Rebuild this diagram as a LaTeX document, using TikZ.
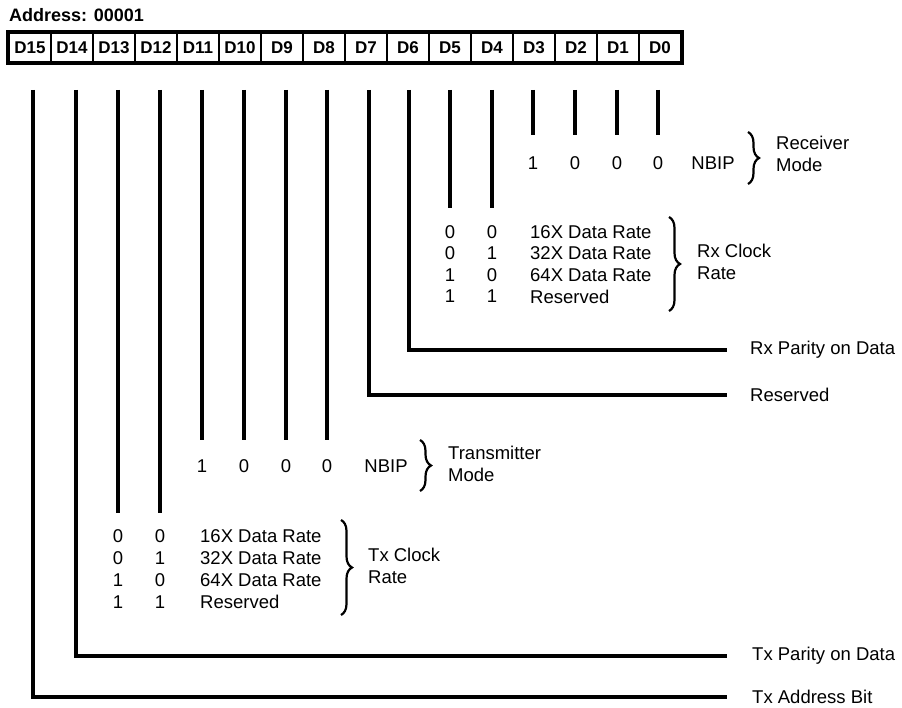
\documentclass[tikz,border=0pt]{standalone}
\usepackage{fontspec}
\setmainfont{Liberation Sans}
\usetikzlibrary{decorations.pathreplacing}
\begin{document}
\begin{tikzpicture}[x=1pt,y=-1pt,
  txt/.style={font=\fontsize{18.5}{22}\selectfont, inner sep=0pt, anchor=west, align=left},
  cell/.style={draw, minimum width=42pt, minimum height=29pt, inner sep=0pt, font=\bfseries\fontsize{17}{20}\selectfont, line width=2.2pt},
  bit/.style={font=\fontsize{18.5}{20}\selectfont, inner sep=0pt},
  brc/.style={decorate, decoration={brace, amplitude=11pt}, line width=2.2pt},
  wire/.style={line width=3.2pt}]
\useasboundingbox (0,0) rectangle (902,708);
% header
\node[txt, font=\bfseries\fontsize{18}{20}\selectfont] (addr) at (9,15) {Address: 00001};
% register cells
\foreach \i in {0,...,15} {
  \node[cell] (c\i) at ({30+42*(15-\i)}, 47.5) {D\i};
}
\draw[line width=3.4pt] (c15.north west) rectangle (c0.south east);
% wire tops
\foreach \i/\x in {15/33,14/76,13/118,12/160,11/202,10/244,9/286,8/327,7/369,6/409,5/450,4/492,3/533,2/575,1/617,0/658} {
  \coordinate (t\i) at (\x,90);
}
% Receiver mode bits D3..D0
\foreach \i/\v in {3/1,2/0,1/0,0/0} {
  \coordinate (b\i) at (t\i |- 0,135);
  \draw[wire] (t\i) -- (b\i);
  \node[bit] (v\i) at (t\i |- 0,163) {\v};
}
\node[bit] (nbr) at (713,163) {NBIP};
\draw[brc] (748,132) -- (748,184);
\node[txt] (rmode) at (776,154) {Receiver\\Mode};
% Rx clock rate D5, D4
\foreach \i in {5,4} {
  \coordinate (b\i) at (t\i |- 0,208);
  \draw[wire] (t\i) -- (b\i);
}
\foreach \r/\a/\b/\t/\y in {1/0/0/16X Data Rate/232, 2/0/1/32X Data Rate/253.5, 3/1/0/64X Data Rate/275, 4/1/1/Reserved/296.5} {
  \node[bit] (rxa\r) at (t5 |- 0,\y) {\a};
  \node[bit] (rxb\r) at (t4 |- 0,\y) {\b};
  \node[txt] (rxt\r) at (530,\y) {\t};
}
\draw[brc] (669,217) -- (669,311);
\node[txt] (rxclk) at (697,262) {Rx Clock\\Rate};
% D6 Rx parity
\node[txt] (rxp) at (750,350) {Rx Parity on Data};
\coordinate (e6) at (727,350);
\draw[wire] (t6) |- (e6);
% D7 reserved
\node[txt] (res7) at (750,395) {Reserved};
\coordinate (e7) at (727,395);
\draw[wire] (t7) |- (e7);
% Transmitter mode D11..D8
\foreach \i/\v in {11/1,10/0,9/0,8/0} {
  \coordinate (b\i) at (t\i |- 0,440);
  \draw[wire] (t\i) -- (b\i);
  \node[bit] (v\i) at (t\i |- 0,466) {\v};
}
\node[bit] (nbt) at (386,466) {NBIP};
\draw[brc] (420,440) -- (420,491);
\node[txt] (tmode) at (448,464) {Transmitter\\Mode};
% Tx clock rate D13, D12
\foreach \i in {13,12} {
  \coordinate (b\i) at (t\i |- 0,513);
  \draw[wire] (t\i) -- (b\i);
}
\foreach \r/\a/\b/\t/\y in {1/0/0/16X Data Rate/536, 2/0/1/32X Data Rate/558, 3/1/0/64X Data Rate/580, 4/1/1/Reserved/602} {
  \node[bit] (txa\r) at (t13 |- 0,\y) {\a};
  \node[bit] (txb\r) at (t12 |- 0,\y) {\b};
  \node[txt] (txt\r) at (200,\y) {\t};
}
\draw[brc] (341,520) -- (341,615);
\node[txt] (txclk) at (368,566) {Tx Clock\\Rate};
% D14 Tx parity
\node[txt] (txp) at (752,656) {Tx Parity on Data};
\coordinate (e14) at (727,656);
\draw[wire] (t14) |- (e14);
% D15 Tx address bit
\node[txt] (txa) at (752,697) {Tx Address Bit};
\coordinate (e15) at (727,697);
\draw[wire] (t15) |- (e15);
\end{tikzpicture}
\end{document}
